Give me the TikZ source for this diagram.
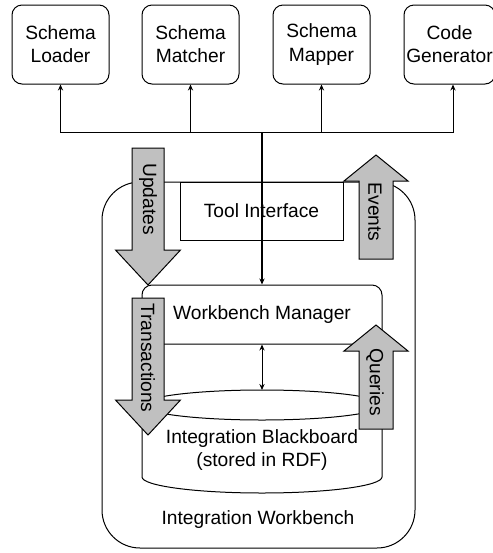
\documentclass[tikz,border=0pt]{standalone}
\usepackage{fontspec}
\setmainfont{Liberation Sans}
\usetikzlibrary{arrows.meta}
\usetikzlibrary{positioning}
\definecolor{blockgray}{RGB}{192,192,192}
\tikzset{
    toolbox/.style={draw, rounded corners=5pt, minimum width=48.5pt, minimum height=39.5pt, align=center, inner sep=0pt},
    downblock/.pic={
        % Shaft and head, tip at the origin
        \draw[fill=blockgray] (-16,-137) -- (16,-137) -- (16,-35) -- (32.5,-35) -- (0,0) -- (-32.5,-35) -- (-16,-35) -- cycle;
    },
    upblock/.pic={
        % Shaft and head, tip at the origin
        \draw[fill=blockgray] (-17,104) -- (17,104) -- (17,26) -- (32,26) -- (0,0) -- (-32,26) -- (-17,26) -- cycle;
    },
}

\begin{document}
\begin{tikzpicture}[x=0.5pt, y=-0.5pt, line width=0.5pt, >={Stealth[length=3pt,width=2.6pt]}, font=\fontsize{9.6}{11.6}\selectfont]
            \useasboundingbox (0,0) rectangle (493,553);

            % Tools
            \node[toolbox] (loader) at (60.5,44.5) {Schema\\Loader};
            \node[toolbox, right=16pt of loader] (matcher) {Schema\\Matcher};
            \node[toolbox, right=16.5pt of matcher] (mapper) {Schema\\Mapper};
            \node[toolbox, right=16.5pt of mapper, minimum width=45.5pt] (generator) {Code\\Generator};

            % Workbench
            \node[draw, rounded corners=19pt, minimum width=156.5pt, minimum height=183pt] (workbench) at (258.5,365) {};
            \node (wblabel) at (258,520) {Integration Workbench};
            \node[draw, fill=white, minimum width=81.5pt, minimum height=29pt] (tool) at (261.5,211) {Tool Interface};
            \node[draw, fill=white, rounded corners=5pt, minimum width=120pt, minimum height=29.5pt] (manager) at (262,314.5) {Workbench Manager};

            % Blackboard (cylinder)
            \draw (142,405) -- (142,477) arc[start angle=180, end angle=0, x radius=120, y radius=16] -- (382,405);
            \draw (262,405) ellipse [x radius=120, y radius=15];
            \node[align=center] (blackboard) at (262,450) {Integration Blackboard\\(stored in RDF)};
            \coordinate (bbtop) at (262,390);

            % Relationships
            \coordinate (hub) at (262,132);
            \draw[->] (hub) -| (loader);
            \draw[->] (hub) -| (matcher);
            \draw[->] (hub) -| (mapper);
            \draw[->] (hub) -| ([xshift=1.75pt]generator.south);
            \draw[->, line width=0.8pt] (hub) -- (manager);
            \draw[<->] (manager) -- (bbtop);

            % Flows
            \pic at (148,285) {downblock};
            \node[rotate=-90] (updates) at (148,199) {Updates};
            \pic at (148,435) {downblock};
            \node[rotate=-90] (transactions) at (148,358) {Transactions};
            \pic at (376,155) {upblock};
            \node[rotate=-90] (events) at (375,212) {Events};
            \pic at (376,325) {upblock};
            \node[rotate=-90] (queries) at (375,382) {Queries};

        \end{tikzpicture}
\end{document}
